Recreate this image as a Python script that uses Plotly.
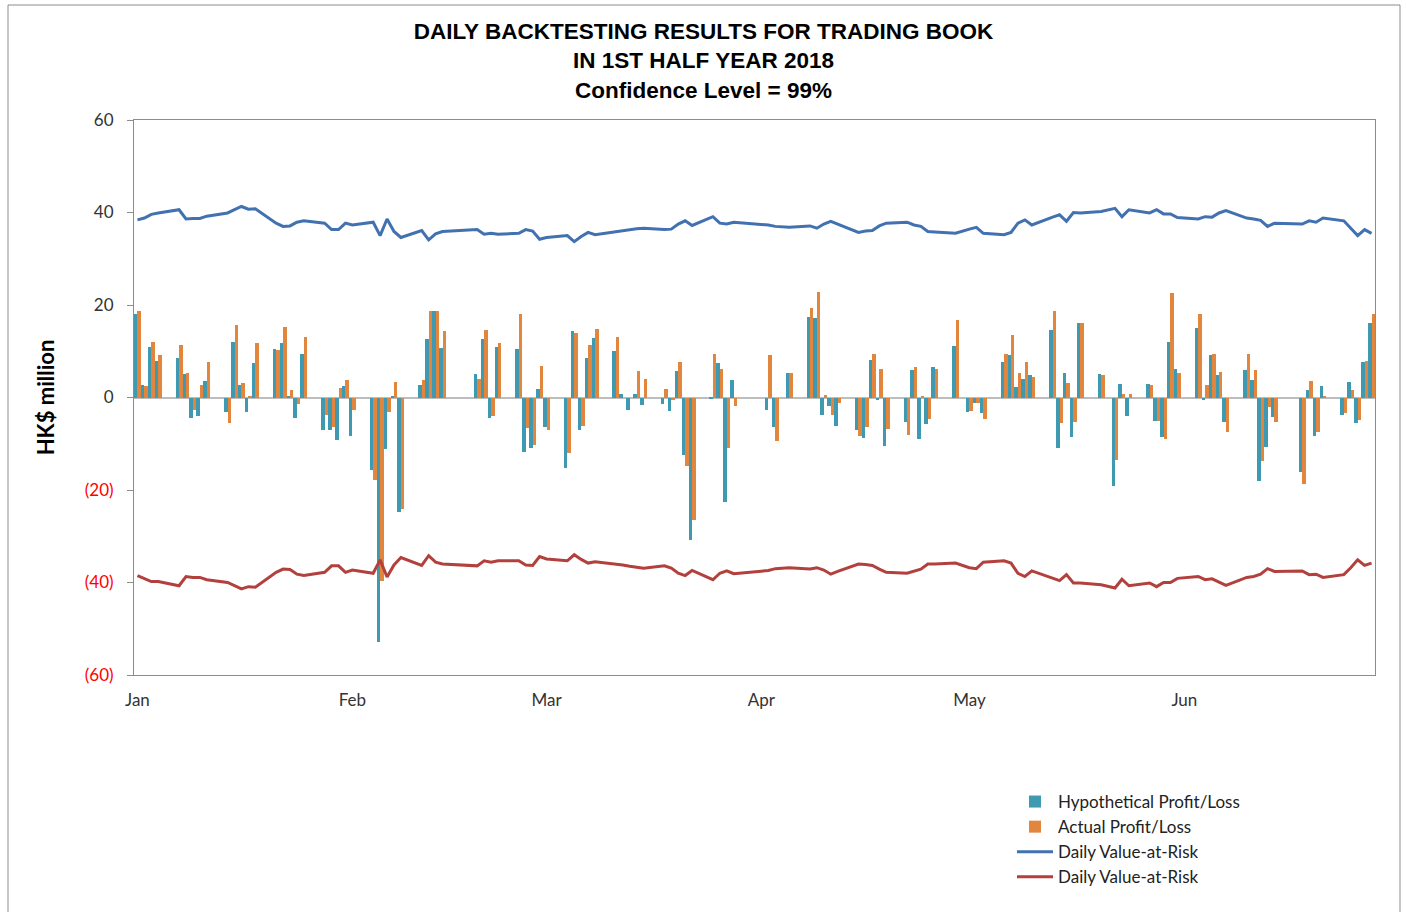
import pandas as pd
import plotly.graph_objects as go

# ---- data (HK$ million), one value per trading day, 2 Jan - 29 Jun 2018 ----
holidays = ["2018-01-01", "2018-02-16", "2018-02-19", "2018-03-30", "2018-04-02",
            "2018-04-05", "2018-05-01", "2018-05-22", "2018-06-18"]
dates = [d for d in pd.bdate_range("2018-01-02", "2018-06-29") if d.strftime("%Y-%m-%d") not in holidays]

hypothetical = [
    18.0, 2.7, 11.0, 7.9, 8.6, 5.0, -4.5, -3.9, 3.6, -3.2, 12.1, 2.8, -3.2, 7.4,
    10.5, 11.7, 0.2, -4.5, 9.4, -7.1, -7.1, -9.2,
    2.4, -8.4, -15.6, -52.8, -11.2, 0.2, -24.8, 2.8, 12.7, 18.8, 10.7, 5.0, 12.7,
    -4.5, 11.0, 10.5, -11.7, -11.0,
    1.9, -6.4, -15.3, 14.3, -7.0, 8.6, 12.9, 10.1, 0.8, -2.7, 0.8, -1.7, -1.3,
    -3.0, 5.8, -12.4, -30.9, -0.3, 7.4, -22.6, 3.8,
    -2.7, -6.4, 5.2, 17.4, 17.2, -3.7, -1.8, -6.1, -7.1, -8.8, 8.1, -0.5, -10.4,
    -5.4, 6.0, -9.0, -5.8, 6.6, 11.2,
    -3.2, -1.2, -3.4, 7.6, 9.2, 2.2, 4.1, 4.8, 14.6, -11.0, 5.2, -8.6, 16.2, 5.0,
    -19.2, 3.0, -3.9, 3.0, -5.0, -8.6, 12.1,
    6.1, 15.1, -0.6, 9.2, 4.8, -5.2, 6.0, 3.8, -18.0, -10.8, -4.3, -16.1, 1.7,
    -8.4, 2.4, -3.7, 3.4, -5.5, 7.6, 16.1,
]
actual = [
    18.8, 2.4, 12.0, 9.2, 11.3, 5.4, -2.7, 2.6, 7.7, -5.6, 15.6, 3.2, 0.2, 11.7,
    10.3, 15.3, 1.7, -1.3, 13.1, -3.7, -6.3, 2.0,
    3.7, -2.8, -17.9, -39.6, -3.2, 3.4, -24.1, 3.8, 18.8, 18.8, 14.4, 4.0, 14.6,
    -4.1, 11.7, 18.1, -6.6, -10.2,
    6.8, -7.1, -12.0, 13.9, -6.1, 11.3, 14.8, 13.1, 0.0, 0.0, 5.8, 4.0, 1.8,
    -0.6, 7.7, -14.9, -26.4, 9.4, 6.2, -11.0, -1.8,
    9.2, -9.3, 5.2, 19.4, 22.9, 0.6, -3.7, -1.1, -8.4, -6.4, 9.5, 6.1, -6.8,
    -8.2, 6.6, 0.3, -4.7, 6.1, 16.8,
    -2.9, -1.2, -4.7, 9.4, 13.5, 5.2, 7.7, 4.4, 18.8, -5.6, 3.2, -5.2, 16.2, 4.8,
    -13.5, 0.8, 0.8, 2.8, -5.0, -8.9, 22.7,
    5.4, 18.0, 2.7, 9.5, 5.5, -7.4, 9.4, 6.0, -13.7, -2.1, -5.2, -18.7, 3.6,
    -7.4, 0.4, -3.4, 1.7, -4.8, 7.9, 18.0,
]
var_upper = [
    38.4, 38.8, 39.6, 39.9, 40.6, 38.6, 38.7, 38.7, 39.2, 39.9, 40.6, 41.3, 40.7, 40.8,
    37.7, 37.0, 37.1, 37.9, 38.2, 37.7, 36.3, 36.3,
    37.7, 37.3, 37.9, 35.0, 38.6, 35.9, 34.6, 36.1, 34.1, 35.4, 35.9, 36.3, 35.3,
    35.5, 35.3, 35.5, 36.3, 36.0,
    34.2, 34.6, 35.0, 33.7, 34.8, 35.7, 35.2, 35.9, 36.1, 36.3, 36.5, 36.6, 36.3,
    36.4, 37.5, 38.2, 37.2, 39.1, 37.7, 37.5, 37.9,
    37.3, 37.0, 36.8, 37.1, 36.6, 37.5, 38.1, 37.5, 35.7, 36.0, 36.1, 37.1, 37.7,
    37.9, 37.3, 37.0, 35.9, 35.8, 35.5,
    36.4, 36.8, 35.5, 35.2, 35.7, 37.7, 38.4, 37.3, 39.0, 39.5, 38.1, 40.0, 39.9, 40.2,
    40.9, 39.1, 40.6, 39.9, 40.6, 39.7, 39.7,
    38.9, 38.6, 39.1, 39.0, 39.9, 40.4, 38.8, 38.6, 38.3, 37.0, 37.7, 37.5, 38.2,
    37.9, 38.8, 38.2, 36.6, 35.0, 36.3, 35.5,
]
var_lower = [
    -38.5, -39.1, -39.8, -39.8, -40.7, -38.7, -38.9, -38.9, -39.4, -40.0, -40.7, -41.4, -40.9, -41.0,
    -37.8, -37.1, -37.2, -38.2, -38.5, -37.8, -36.4, -36.4,
    -37.8, -37.3, -38.0, -35.1, -38.8, -36.2, -34.6, -36.3, -34.2, -35.6, -36.0, -36.4, -35.3,
    -35.6, -35.3, -35.3, -36.2, -36.3,
    -34.4, -34.9, -35.3, -34.0, -35.0, -35.8, -35.5, -36.0, -36.2, -36.5, -36.7, -36.9, -36.4,
    -36.9, -38.0, -38.5, -37.4, -39.4, -38.0, -37.5, -38.1,
    -37.4, -37.0, -36.8, -37.1, -36.8, -37.3, -38.2, -37.6, -36.0, -36.1, -36.3, -37.1, -37.8,
    -38.0, -37.5, -37.1, -36.0, -36.0, -35.8,
    -36.8, -37.0, -35.6, -35.3, -35.8, -38.0, -38.7, -37.5, -39.1, -39.6, -38.3, -40.1, -40.1, -40.5,
    -41.2, -39.3, -40.7, -40.1, -40.9, -40.0, -40.0,
    -39.1, -38.7, -39.4, -39.2, -39.9, -40.6, -38.9, -38.7, -38.2, -37.0, -37.6, -37.5, -38.3,
    -38.2, -38.9, -38.3, -36.8, -35.1, -36.3, -35.8,
]

month_ticks = ["2018-01-02", "2018-02-02", "2018-03-02", "2018-04-02", "2018-05-02", "2018-06-02"]
month_labels = ["Jan", "Feb", "Mar", "Apr", "May", "Jun"]
y_ticks = [60, 40, 20, 0, -20, -40, -60]
y_labels = ["60", "40", "20", "0",
            "<span style='color:#FF0000'>(20)</span>",
            "<span style='color:#FF0000'>(40)</span>",
            "<span style='color:#FF0000'>(60)</span>"]

TEAL = "#3F99B1"
ORANGE = "#E2863E"
BLUE = "#4171B0"
RED = "#B2403C"
FONT = "Lato"

fig = go.Figure()
fig.add_trace(go.Bar(x=dates, y=hypothetical, name="Hypothetical Profit/Loss",
                     marker=dict(color=TEAL, line=dict(width=0))))
fig.add_trace(go.Bar(x=dates, y=actual, name="Actual Profit/Loss",
                     marker=dict(color=ORANGE, line=dict(width=0))))
fig.add_trace(go.Scatter(x=dates, y=var_upper, name="Daily Value-at-Risk", mode="lines",
                         line=dict(color=BLUE, width=3)))
fig.add_trace(go.Scatter(x=dates, y=var_lower, name="Daily Value-at-Risk", mode="lines",
                         line=dict(color=RED, width=3)))

W, H = 1407, 912
L, R, T, B = 134, 32, 120, 237
pw, ph = W - L - R, H - T - B


def px(xp):
    return (xp - L) / pw


def py(yp):
    return (H - B - yp) / ph


fig.update_layout(
    width=W, height=H,
    margin=dict(l=L, r=R, t=T, b=B),
    paper_bgcolor="white", plot_bgcolor="white",
    barmode="group", bargap=0, bargroupgap=0,
    font=dict(family=FONT, size=16, color="#333333"),
    title=dict(
        text="<b>DAILY BACKTESTING RESULTS FOR TRADING BOOK<br>IN 1ST HALF YEAR 2018<br>Confidence Level = 99%</b>",
        x=0.5, xref="container", xanchor="center",
        y=1 - 39 / H, yref="container", yanchor="top",
        font=dict(family="Liberation Sans", size=22.5, color="#000000"),
    ),
    xaxis=dict(
        type="date",
        range=["2018-01-01 12:00", "2018-06-29 12:00"],
        tickvals=month_ticks, ticktext=month_labels,
        showgrid=False, zeroline=False,
        showline=True, mirror=True, linecolor="#8C8C8C", linewidth=1,
        ticks="", ticklabelstandoff=10,
        tickfont=dict(family=FONT, size=17, color="#333333"),
    ),
    yaxis=dict(
        range=[-60, 60],
        tickvals=y_ticks, ticktext=y_labels,
        showgrid=False,
        zeroline=True, zerolinecolor="#BDBDBD", zerolinewidth=2,
        showline=True, mirror=True, linecolor="#8C8C8C", linewidth=1,
        ticks="outside", ticklen=6, tickcolor="#8C8C8C",
        ticklabelstandoff=10,
        tickfont=dict(family=FONT, size=17, color="#333333"),
        title=dict(text="<b>HK$ million</b>", standoff=24,
                   font=dict(family=FONT, size=22, color="#000000")),
    ),
    legend=dict(
        x=px(1012), y=py(784), xanchor="left", yanchor="top",
        bgcolor="rgba(0,0,0,0)", font=dict(family=FONT, size=17, color="#222222"),
        itemwidth=36,
    ),
    shapes=[dict(type="rect", xref="paper", yref="paper",
                 x0=px(8), x1=px(1400), y0=py(930), y1=py(5),
                 line=dict(color="#8C8C8C", width=1), fillcolor="rgba(0,0,0,0)",
                 layer="below")],
)

fig.write_html("out.html", config={"displayModeBar": False},
               post_script="document.body.style.margin='0';")
